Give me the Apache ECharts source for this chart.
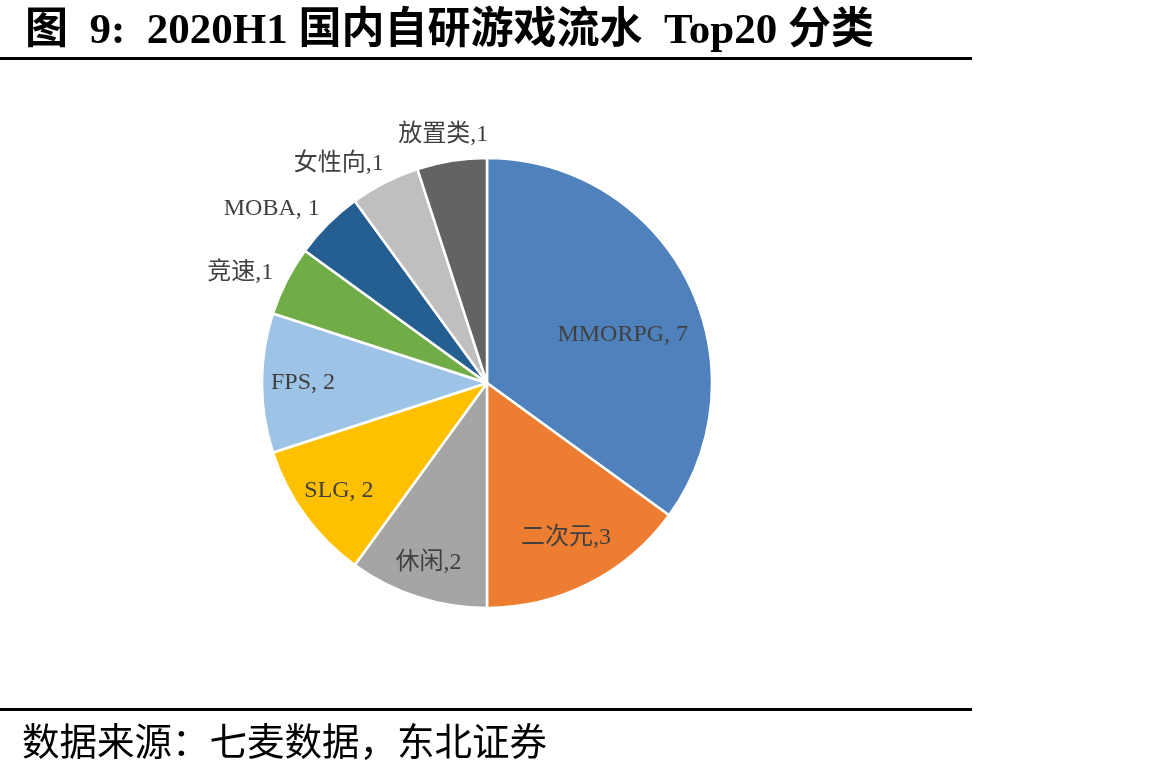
<!DOCTYPE html>
<html>
<head>
<meta charset="utf-8">
<script src="https://cdn.jsdelivr.net/npm/echarts@6/dist/echarts.min.js"></script>
<style>
  html, body { margin: 0; padding: 0; background: #fff; }
  #chart { width: 1167px; height: 775px; }
</style>
</head>
<body>
<div id="chart"></div>
<script>
// 分类与数量（顺时针，从12点开始）
const categories = ['MMORPG', '二次元', '休闲', 'SLG', 'FPS', '竞速', 'MOBA', '女性向', '放置类'];
const counts = [7, 3, 2, 2, 2, 1, 1, 1, 1];
const colors = ['#4F81BD', '#ED7D31', '#A5A5A5', '#FFC000', '#9DC3E6', '#70AD47', '#255E91', '#BFBFBF', '#636363'];

// 标签摆放：离圆心距离(px) 与角度微调(度)
const labelRadius = [144, 174, 189, 183, 184, 270, 277, 265, 252];
const labelShift = [7.5, 0, 0, 0, 0, -3, -6, -7, -1];

const CX = 487, CY = 383, R = 225;
const FONT = '"Liberation Serif", "Noto Sans CJK SC", serif';

let chart = echarts.init(document.getElementById('chart'));

const option = {
    animation: false,
    title: {
        text: '图  9:  2020H1 国内自研游戏流水  Top20 分类',
        left: 20,
        top: 5,
        textStyle: { fontSize: 43, fontWeight: 'bold', color: '#000', fontFamily: FONT }
    },
    graphic: [
        { type: 'rect', shape: { x: 0, y: 57, width: 972, height: 3 }, style: { fill: '#000' } },
        { type: 'rect', shape: { x: 0, y: 708, width: 972, height: 3 }, style: { fill: '#000' } },
        {
            type: 'text', left: 22, top: 726,
            style: { text: '数据来源：七麦数据，东北证券', fontSize: 37.5, fill: '#000', fontFamily: FONT }
        }
    ],
    series: [{
        type: 'pie',
        center: [CX, CY],
        radius: R,
        startAngle: 90,
        clockwise: true,
        silent: true,
        itemStyle: { borderColor: '#fff', borderWidth: 2.5 },
        label: {
            position: 'inside',
            color: '#404040',
            fontSize: 24,
            fontFamily: FONT,
            formatter: p => /[A-Za-z]/.test(p.name) ? p.name + ', ' + p.value : p.name + ',' + p.value
        },
        labelLine: { show: false },
        labelLayout: function (params) {
            const r = params.labelRect;
            const lx = r.x + r.width / 2, ly = r.y + r.height / 2;
            const i = params.dataIndex;
            const a = Math.atan2(lx - CX, CY - ly) + labelShift[i] * Math.PI / 180;
            const tx = CX + labelRadius[i] * Math.sin(a);
            const ty = CY - labelRadius[i] * Math.cos(a);
            return { dx: tx - lx, dy: ty - ly };
        },
        data: categories.map((name, i) => ({
            name: name,
            value: counts[i],
            itemStyle: { color: colors[i] }
        }))
    }]
};

chart.setOption(option);
window.addEventListener('resize', () => chart.resize());
</script>
</body>
</html>
